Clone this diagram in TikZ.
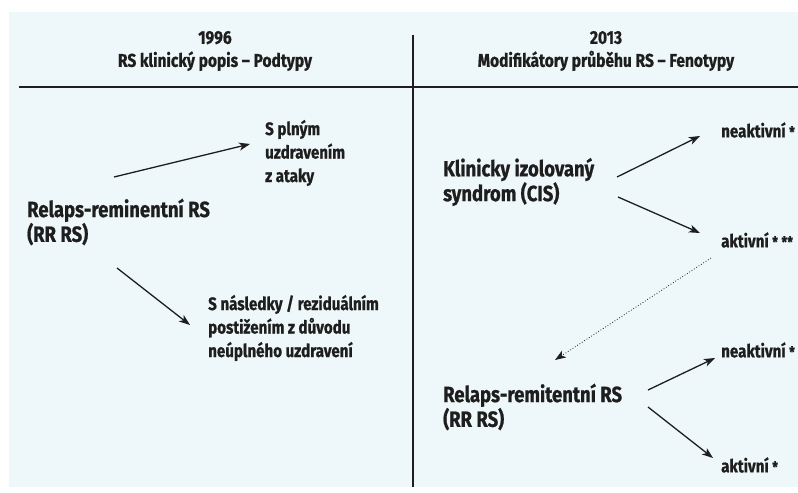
\documentclass[tikz,border=0pt]{standalone}
\usepackage{fontspec}
\setmainfont{Fira Sans}[FakeStretch=0.84,BoldFeatures={FakeBold=0.8}]
\usepackage{tikz}
\usetikzlibrary{arrows,arrows.meta}
\definecolor{paper}{RGB}{238,247,249}
\definecolor{ink}{RGB}{30,30,30}
\newcommand{\hvezda}{{\fontsize{15bp}{15bp}\selectfont *}}

\begin{document}
\begin{tikzpicture}[
  head/.style={align=center,inner sep=0pt,text=ink,font=\fontsize{18.5bp}{23bp}\selectfont\bfseries},
  big/.style={anchor=west,align=left,inner sep=0pt,text=ink,font=\fontsize{22bp}{23.5bp}\selectfont\bfseries},
  small/.style={anchor=west,align=left,inner sep=0pt,text=ink,font=\fontsize{18bp}{23.5bp}\selectfont\bfseries},
  arr/.style={-{Stealth[length=11bp,width=8bp,inset=3bp]},line width=1.3pt,draw=ink},
  dotarr/.style={-{Stealth[length=11bp,width=8bp,inset=3bp]},line width=0.8pt,draw=ink,dotted}]

\useasboundingbox (0bp,0bp) rectangle (798bp,-493bp);
\fill[paper] (9bp,-12bp) rectangle (798bp,-487bp);
\draw [line width=1.1pt,ink] (19bp,-87bp) -- (798bp,-87bp);
\draw [line width=1.1pt,ink] (413bp,-35bp) -- (413bp,-487bp);

\node (h96) at (215bp,-51bp)[head] {1996\\RS klinický popis – Podtypy};
\node (h13) at (606bp,-51bp)[head] {2013\\Modifikátory průběhu RS – Fenotypy};

\node (rrl) at (27bp,-222bp)[big] {Relaps-reminentní RS\\(RR RS)};
\node (plny) at (265bp,-153bp)[small] {S plným\\uzdravením\\z ataky};
\node (nasl) at (208bp,-328bp)[small] {S následky / reziduálním\\postižením z důvodu\\neúplného uzdravení};

\node (cis) at (443bp,-182bp)[big] {Klinicky izolovaný\\syndrom (CIS)};
\node (neakt1) at (721bp,-130bp)[small] {neaktivní \hvezda};
\node (akt1) at (721bp,-240bp)[small] {aktivní \hvezda\ \hvezda\hvezda};
\node (rrr) at (443bp,-407bp)[big] {Relaps-remitentní RS\\(RR RS)};
\node (neakt2) at (721bp,-350bp)[small] {neaktivní \hvezda};
\node (akt2) at (721bp,-465bp)[small] {aktivní \hvezda};

\coordinate (rrlA) at (114bp,-177bp);
\coordinate (plnyA) at (250bp,-144bp);
\coordinate (rrlB) at (117bp,-268bp);
\coordinate (naslA) at (190bp,-325bp);
\coordinate (cisA) at (617bp,-177bp);
\coordinate (neakt1A) at (700bp,-136bp);
\coordinate (cisB) at (618bp,-197bp);
\coordinate (akt1A) at (700bp,-233bp);
\coordinate (akt1B) at (711bp,-258bp);
\coordinate (rrrA) at (555bp,-360bp);
\coordinate (rrrB) at (648bp,-390bp);
\coordinate (neakt2A) at (715bp,-358bp);
\coordinate (rrrC) at (648bp,-407bp);
\coordinate (akt2A) at (713bp,-458bp);

\draw [arr] (rrlA) to (plnyA);
\draw [arr] (rrlB) to (naslA);
\draw [arr] (cisA) to (neakt1A);
\draw [arr] (cisB) to (akt1A);
\draw [dotarr] (akt1B) to (rrrA);
\draw [arr] (rrrB) to (neakt2A);
\draw [arr] (rrrC) to (akt2A);
\end{tikzpicture}
\end{document}
